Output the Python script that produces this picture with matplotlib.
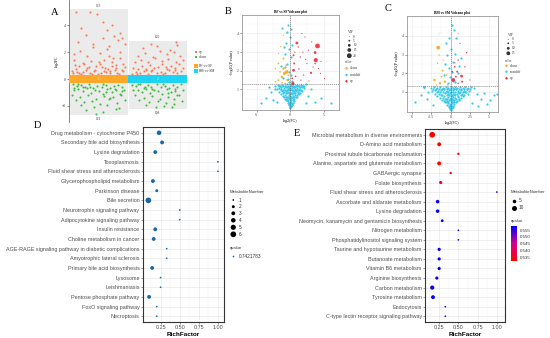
import matplotlib.pyplot as plt
import numpy as np
from matplotlib.colors import LinearSegmentedColormap, Normalize
from matplotlib.cm import ScalarMappable
from matplotlib.ticker import AutoMinorLocator

plt.rcParams['font.family'] = ['Liberation Sans', 'DejaVu Sans']
SERIF = ['Liberation Serif', 'DejaVu Serif']

# ---------------- panel A : log2FC per comparison ----------------
a_groups = ['BF-vs-SF', 'BM-vs-SM']
a_up_n = [123, 100]
a_down_n = [121, 108]
a_top = [5.2, 2.85]
a_bottom = [-2.7, -2.25]

a1_up_x = [-0.43, -0.36, -0.29, -0.22, -0.15, -0.08, -0.01, 0.06, 0.13, 0.20, 0.27, 0.34, 0.41,
           -0.40, -0.33, -0.26, -0.19, -0.12, -0.05, 0.02, 0.09, 0.16, 0.23, 0.30, 0.37, 0.44,
           -0.45, -0.38, -0.27, -0.17, -0.06, 0.04, 0.11, 0.19, 0.29, 0.39,
           -0.42, -0.31, -0.20, -0.09, 0.03, 0.14, 0.25, 0.36, 0.44,
           -0.35, -0.21, -0.10, 0.08, 0.18, 0.33,
           -0.29, 0.14, 0.07, 0.23, 0.36,
           -0.38, -0.14, -0.03, 0.40, 0.26,
           -0.33, -0.11, 0.10, 0.31, -0.24, 0.01, 0.22, 0.42, -0.41, 0.17]
a1_up_y = [0.42, 0.55, 0.38, 0.71, 0.48, 0.62, 0.40, 0.88, 0.52, 0.45, 0.66, 0.39, 0.58,
           1.05, 0.95, 1.20, 0.82, 1.35, 0.98, 1.10, 1.45, 0.76, 1.25, 1.02, 1.60, 0.90,
           0.60, 0.75, 0.50, 0.92, 0.68, 0.44, 0.80, 0.57, 0.85, 0.70,
           1.85, 2.10, 1.70, 2.40, 1.95, 2.25, 1.55, 2.00, 2.65,
           2.80, 3.30, 2.60, 3.05, 2.45, 2.95,
           3.78, 3.66, 4.28, 4.00, 3.45,
           5.00, 4.98, 4.85, 3.10, 3.20,
           0.47, 0.36, 0.64, 0.49, 1.15, 1.30, 0.97, 1.12, 1.40, 1.75]
a1_dn_x = [-0.44, -0.37, -0.30, -0.23, -0.16, -0.09, -0.02, 0.05, 0.12, 0.19, 0.26, 0.33, 0.40,
           -0.41, -0.34, -0.27, -0.20, -0.13, -0.06, 0.01, 0.08, 0.15, 0.22, 0.29, 0.36, 0.43,
           -0.45, -0.32, -0.18, -0.04, 0.10, 0.24, 0.38,
           -0.38, -0.25, -0.11, 0.03, 0.17, 0.31, 0.44,
           -0.30, -0.07, 0.14, 0.35,
           -0.22, 0.08, 0.30,
           -0.05,
           -0.35, -0.14, 0.07, 0.28, -0.26, 0.12, 0.39, -0.42, 0.20]
a1_dn_y = [-0.40, -0.52, -0.45, -0.62, -0.38, -0.70, -0.48, -0.58, -0.42, -0.66, -0.50, -0.44, -0.60,
           -0.82, -0.75, -0.92, -0.70, -1.00, -0.80, -0.88, -1.08, -0.74, -0.95, -0.85, -1.12, -0.78,
           -1.20, -1.35, -1.15, -1.45, -1.25, -1.30, -1.18,
           -1.55, -1.70, -1.62, -1.85, -1.50, -1.75, -1.58,
           -1.95, -2.05, -1.90, -2.15,
           -2.30, -2.45, -2.20,
           -2.62,
           -0.36, -0.56, -0.37, -0.72, -0.60, -0.95, -0.90, -0.68, -1.40]
a2_up_x = [-0.44, -0.37, -0.30, -0.23, -0.16, -0.09, -0.02, 0.05, 0.12, 0.19, 0.26, 0.33, 0.40,
           -0.41, -0.34, -0.27, -0.20, -0.13, -0.06, 0.01, 0.08, 0.15, 0.22, 0.29, 0.36, 0.43,
           -0.39, -0.28, -0.17, -0.05, 0.07, 0.18, 0.31, 0.42,
           -0.33, -0.21, -0.08, 0.04, 0.16, 0.27, 0.38,
           -0.25, -0.02, 0.20, 0.33,
           0.31, -0.12,
           -0.35, -0.11, 0.09, 0.30, -0.20, 0.14]
a2_up_y = [0.40, 0.52, 0.45, 0.60, 0.38, 0.70, 0.48, 0.56, 0.42, 0.65, 0.50, 0.44, 0.62,
           0.85, 0.78, 0.95, 0.72, 1.05, 0.82, 0.90, 1.12, 0.76, 0.98, 0.86, 1.15, 0.80,
           1.30, 1.45, 1.25, 1.60, 1.38, 1.50, 1.28, 1.42,
           1.75, 1.95, 1.65, 2.10, 1.85, 2.00, 1.70,
           2.30, 2.45, 2.20, 2.55,
           2.75, 2.60,
           0.36, 0.58, 0.37, 0.70, 0.66, 0.93]
a2_dn_x = [-0.44, -0.37, -0.30, -0.23, -0.16, -0.09, -0.02, 0.05, 0.12, 0.19, 0.26, 0.33, 0.40,
           -0.41, -0.34, -0.27, -0.20, -0.13, -0.06, 0.01, 0.08, 0.15, 0.22, 0.29, 0.36, 0.43,
           -0.38, -0.24, -0.10, 0.04, 0.18, 0.32,
           -0.31, -0.15, 0.00, 0.14, 0.28, 0.41,
           -0.20, 0.10, 0.27,
           -0.03, 0.24,
           -0.33, -0.12, 0.09, 0.30, -0.22, 0.17]
a2_dn_y = [-0.42, -0.55, -0.40, -0.64, -0.47, -0.72, -0.38, -0.60, -0.50, -0.68, -0.45, -0.57, -0.40,
           -0.85, -0.78, -0.95, -0.74, -1.02, -0.82, -0.90, -1.10, -0.76, -0.98, -0.88, -1.15, -0.80,
           -1.22, -1.38, -1.28, -1.45, -1.32, -1.20,
           -1.55, -1.70, -1.60, -1.80, -1.52, -1.65,
           -1.90, -2.00, -1.85,
           -2.10, -2.05,
           -0.37, -0.62, -0.39, -0.75, -0.62, -1.05]

# ---------------- panel B : BF vs SF volcano ----------------
b_up_x = [4.06, 3.8, 3.7, 1.0, 0.5, 0.5, 0.6, 0.4, 3.1, 3.7, 5.1, 1.74, 2.2, 3.2, 1.5, 2.5, 4.2, 4.5,
          2.0, 1.2, 2.7, 1.3, 2.3, 0.8, 1.6, 2.8, 0.3, 1.9, 3.4, 0.7, 4.6]
b_up_y = [3.33, 2.57, 2.98, 3.49, 2.83, 2.03, 2.39, 1.32, 1.89, 2.39, 1.59, 4.0, 3.81, 3.55, 2.74, 2.39,
          2.12, 1.86, 1.77, 3.28, 3.1, 2.1, 2.6, 1.7, 1.5, 1.45, 1.6, 3.0, 2.2, 3.0, 2.5]
b_up_vip = [20, 17, 10, 10, 6, 10, 6, 12, 7, 4, 2, 2, 2, 2, 3, 2, 2, 2, 3, 3, 2, 3, 2, 4, 2, 2, 5,
            2, 2, 2, 2]
b_dn_x = [-0.5, -0.85, -1.0, -1.23, -1.74, -1.0, -1.74, -0.4, -2.2, -1.5, -0.5, -1.0, -1.74, -2.2,
          -0.74, -0.25, -1.2, -0.6, -1.4]
b_dn_y = [1.94, 1.86, 2.12, 1.67, 2.39, 2.66, 1.5, 1.5, 2.12, 1.94, 4.0, 3.9, 2.93, 1.41, 1.32,
          1.76, 1.35, 2.3, 3.3]
b_dn_vip = [14, 12, 8, 8, 5, 6, 5, 8, 3, 4, 2, 2, 2, 3, 5, 5, 4, 4, 2]
b_ns_x = [0.0, -0.08, 0.1, -0.2, 0.22, 0.05, -0.12,
          -0.35, 0.35, -0.05, 0.15, -0.25, 0.5, -0.55,
          -0.7, -0.4, -0.15, 0.05, 0.28, 0.62, 0.8, -0.9,
          -1.1, -0.75, -0.45, -0.2, 0.0, 0.2, 0.45, 0.7, 1.0, 1.25, -1.3,
          -1.6, -1.2, -0.85, -0.55, -0.3, -0.08, 0.12, 0.35, 0.6, 0.9, 1.2, 1.5, 1.8,
          -2.0, -1.65, -1.3, -0.95, -0.65, -0.38, -0.15, 0.05, 0.28, 0.5, 0.78, 1.05, 1.35, 1.7, 2.0,
          -2.2, -1.85, -1.5, -1.15, -0.8, -0.5, -0.25, 0.0, 0.2, 0.42, 0.68, 0.95, 1.25, 1.55, 1.9, 2.3,
          -4.3, -3.6, -2.9, -2.6, -3.2, 2.7, 3.1, 3.7, 4.6, 6.0, 2.4, -1.9,
          -0.3, -0.15, -0.45, 0.1, -0.1, -0.6, -0.35, 0.15, -0.2, 0.12, -0.7, -0.9, -1.4, -1.1, 0.3,
          -0.5, -1.2, -0.05, 0.25, -0.8,
          -0.02, 0.14, -0.18, 0.08, 0.25, -0.28, 0.18, 0.4, -0.5,
          -0.6, -0.32, -0.05, 0.12, 0.35, 0.58, 0.95,
          -1.0, -0.65, -0.42, -0.18, 0.05, 0.25, 0.5, 0.78, 1.1, 1.4,
          -1.4, -1.0, -0.7, -0.45, -0.2, 0.0, 0.2, 0.45, 0.7, 1.0, 1.3, 1.65,
          -1.7, -1.35, -1.0, -0.75, -0.4, -0.1, 0.1, 0.35, 0.6, 0.88, 1.15, 1.45, 1.8, 2.1]
b_ns_y = [0.03, 0.08, 0.1, 0.15, 0.18, 0.2, 0.22,
          0.28, 0.3, 0.32, 0.35, 0.38, 0.4, 0.42,
          0.48, 0.5, 0.52, 0.47, 0.55, 0.5, 0.58, 0.57,
          0.65, 0.68, 0.62, 0.7, 0.66, 0.74, 0.64, 0.72, 0.68, 0.77, 0.78,
          0.86, 0.9, 0.84, 0.92, 0.88, 0.95, 0.82, 0.9, 0.85, 0.93, 0.87, 0.96, 0.9,
          1.05, 1.1, 1.02, 1.08, 1.12, 1.04, 1.1, 1.0, 1.08, 1.12, 1.04, 1.1, 1.03, 1.12, 1.06,
          1.2, 1.26, 1.18, 1.24, 1.2, 1.27, 1.18, 1.25, 1.19, 1.27, 1.2, 1.26, 1.18, 1.25, 1.21, 1.27,
          0.28, 0.55, 0.85, 0.45, 1.15, 0.65, 1.0, 0.35, 0.55, 0.28, 0.25, 0.35,
          1.55, 1.95, 2.35, 2.75, 3.15, 3.5, 4.45, 4.25, 1.4, 1.75, 2.9, 3.3, 2.25, 1.6, 1.45,
          4.1, 4.3, 3.8, 3.4, 2.2,
          0.12, 0.13, 0.25, 0.26, 0.24, 0.44, 0.43, 0.45, 0.46,
          0.6, 0.59, 0.61, 0.6, 0.58, 0.62, 0.6,
          0.8, 0.79, 0.81, 0.8, 0.78, 0.82, 0.8, 0.79, 0.81, 0.8,
          0.98, 0.97, 0.99, 0.98, 0.96, 1.0, 0.97, 0.99, 0.98, 0.97, 0.99, 0.98,
          1.16, 1.15, 1.17, 1.16, 1.14, 1.15, 1.17, 1.16, 1.15, 1.17, 1.16, 1.15, 1.16, 1.17]
b_ns_big_x = [-2.2]
b_ns_big_y = [1.05]
b_ns_big_vip = [8]

# ---------------- panel C : BM vs SM volcano ----------------
c_up_x = [0.34, 1.43, 0.86, 1.5, 0.56, 0.99, 2.08, 1.21, 0.99, 1.86, 0.69, 0.21, 2.5, 0.99, 0.56]
c_up_y = [1.63, 1.84, 2.08, 1.54, 2.34, 2.7, 3.1, 3.6, 4.14, 2.34, 1.81, 2.08, 1.63, 1.45, 2.55]
c_up_vip = [15, 10, 6, 6, 4, 3, 3, 2, 1, 3, 5, 4, 2, 4, 2]
c_dn_x = [-1.6, -2.1, -1.48, -1.04, -1.39, -0.74, -1.17, -0.52, -1.69, -1.39, -0.39, -1.82, -0.96]
c_dn_y = [3.37, 1.63, 2.97, 2.13, 1.45, 1.54, 1.81, 1.9, 2.53, 4.14, 1.36, 1.36, 2.7]
c_dn_vip = [15, 8, 3, 5, 8, 8, 4, 4, 3, 1, 4, 3, 2]
c_ns_x = [0.0, -0.1, 0.12, -0.25, 0.28, 0.05, -0.1,
          -0.45, 0.45, -0.05, 0.2, -0.3, 0.65, -0.7,
          -0.9, -0.5, -0.2, 0.08, 0.35, 0.8, 1.05, -1.15,
          -1.4, -0.95, -0.6, -0.28, 0.0, 0.25, 0.55, 0.9, 1.3, 1.6, -1.7,
          -2.0, -1.55, -1.1, -0.7, -0.38, -0.1, 0.15, 0.45, 0.78, 1.15, 1.5, 1.9, 2.2,
          -2.4, -2.0, -1.6, -1.2, -0.85, -0.5, -0.2, 0.05, 0.35, 0.65, 1.0, 1.35, 1.7, 2.1, 2.45,
          -2.6, -2.2, -1.8, -1.4, -1.0, -0.65, -0.3, 0.0, 0.25, 0.55, 0.85, 1.2, 1.55, 1.9, 2.3, 2.7,
          -4.6, -3.9, -3.1, -2.9, 3.0, 3.4, 3.9, 4.4, 4.7, 5.1, 5.6, 6.0, 2.8, -2.3, 3.6,
          0.2, 0.45, -0.25, 0.1, -0.45, 0.3, -0.15, 0.55, -0.75, 0.9, -0.05, 0.6, 1.4, -0.35, 0.15,
          -0.6, 0.75, 1.1, -0.9, 0.35,
          -0.02, 0.16, -0.22, 0.1, 0.32, -0.38, 0.22, 0.5, -0.6,
          -0.75, -0.4, -0.08, 0.14, 0.42, 0.7, 1.15,
          -1.25, -0.82, -0.52, -0.22, 0.05, 0.3, 0.6, 0.95, 1.35, 1.75,
          -1.8, -1.35, -0.95, -0.6, -0.28, 0.0, 0.25, 0.55, 0.9, 1.25, 1.65, 2.05,
          -2.3, -1.9, -1.5, -1.15, -0.8, -0.45, -0.12, 0.12, 0.42, 0.72, 1.05, 1.4, 1.75, 2.15, 2.5]
c_ns_y = [0.03, 0.08, 0.1, 0.16, 0.18, 0.22, 0.25,
          0.3, 0.32, 0.35, 0.38, 0.4, 0.42, 0.44,
          0.5, 0.52, 0.55, 0.5, 0.56, 0.52, 0.58, 0.57,
          0.65, 0.68, 0.62, 0.7, 0.66, 0.74, 0.64, 0.72, 0.68, 0.77, 0.78,
          0.86, 0.9, 0.84, 0.92, 0.88, 0.95, 0.82, 0.9, 0.85, 0.93, 0.87, 0.96, 0.9,
          1.05, 1.1, 1.02, 1.08, 1.12, 1.04, 1.1, 1.0, 1.08, 1.12, 1.04, 1.1, 1.03, 1.12, 1.06,
          1.2, 1.26, 1.18, 1.24, 1.2, 1.27, 1.18, 1.25, 1.19, 1.27, 1.2, 1.26, 1.18, 1.25, 1.21, 1.27,
          0.45, 0.8, 0.6, 1.0, 1.2, 0.85, 0.6, 0.95, 0.35, 0.55, 0.8, 0.9, 0.4, 0.3, 0.25,
          4.6, 4.3, 3.9, 3.3, 2.95, 2.6, 2.3, 3.05, 2.5, 2.0, 1.8, 1.5, 2.8, 1.45, 2.05,
          3.6, 3.9, 2.4, 1.9, 1.6,
          0.12, 0.13, 0.25, 0.26, 0.24, 0.44, 0.43, 0.45, 0.46,
          0.6, 0.59, 0.61, 0.6, 0.58, 0.62, 0.6,
          0.8, 0.79, 0.81, 0.8, 0.78, 0.82, 0.8, 0.79, 0.81, 0.8,
          0.98, 0.97, 0.99, 0.98, 0.96, 1.0, 0.97, 0.99, 0.98, 0.97, 0.99, 0.98,
          1.16, 1.15, 1.17, 1.16, 1.14, 1.15, 1.17, 1.16, 1.15, 1.17, 1.16, 1.15, 1.16, 1.17, 1.15]
c_ns_big_x = [-3.43]
c_ns_big_y = [1.24]
c_ns_big_vip = [10]

# ---------------- panel D : KEGG enrichment ----------------
d_names = ['Drug metabolism - cytochrome P450', 'Secondary bile acid biosynthesis',
           'Lysine degradation', 'Toxoplasmosis', 'Fluid shear stress and atherosclerosis',
           'Glycerophospholipid metabolism', 'Parkinson disease', 'Bile secretion',
           'Neurotrophin signaling pathway', 'Adipocytokine signaling pathway',
           'Insulin resistance', 'Choline metabolism in cancer',
           'AGE-RAGE signaling pathway in diabetic complications',
           'Amyotrophic lateral sclerosis', 'Primary bile acid biosynthesis', 'Lysosome',
           'Leishmaniasis', 'Pentose phosphate pathway', 'FoxO signaling pathway', 'Necroptosis']
d_rich = [0.23, 0.27, 0.18, 1.0, 1.0, 0.15, 0.2, 0.09, 0.5, 0.5,
          0.18, 0.16, 0.33, 0.33, 0.14, 0.25, 0.25, 0.1, 0.2, 0.2]
d_num = [4, 3, 3, 1, 1, 3, 2, 6, 1, 1, 3, 3, 1, 1, 3, 1, 1, 3, 1, 1]
d_qvalue = '0.7421783'

# ---------------- panel E : KEGG enrichment ----------------
e_names = ['Microbial metabolism in diverse environments', 'D-Amino acid metabolism',
           'Proximal tubule bicarbonate reclamation', 'Alanine, aspartate and glutamate metabolism',
           'GABAergic synapse', 'Folate biosynthesis', 'Fluid shear stress and atherosclerosis',
           'Ascorbate and aldarate metabolism', 'Lysine degradation',
           'Neomycin, kanamycin and gentamicin biosynthesis', 'Nitrogen metabolism',
           'Phosphatidylinositol signaling system', 'Taurine and hypotaurine metabolism',
           'Butanoate metabolism', 'Vitamin B6 metabolism', 'Arginine biosynthesis',
           'Carbon metabolism', 'Tyrosine metabolism', 'Endocytosis',
           'C-type lectin receptor signaling pathway']
e_rich = [0.16, 0.25, 0.5, 0.25, 0.4, 0.27, 1.0, 0.23, 0.23, 0.29,
          0.5, 0.5, 0.25, 0.25, 0.25, 0.22, 0.16, 0.17, 0.33, 0.33]
e_num = [13, 6, 2, 6, 2, 4, 1, 5, 5, 3, 1, 1, 4, 4, 4, 4, 7, 6, 1, 1]
e_q = [0.5325, 0.5325, 0.5325, 0.5325, 0.5325, 0.538, 0.5575, 0.5575, 0.5575, 0.5575,
       0.5575, 0.5575, 0.5575, 0.5575, 0.5575, 0.5575, 0.5575, 0.5575, 0.5575, 0.5575]

# colours
UP_A, DN_A = '#F97C55', '#3DBE3D'
BAND = ['#FFA726', '#1DD3F3']
V_DN, V_NS, V_UP = '#F5A623', '#35C9EA', '#EE2C3C'
D_COL = '#1768A6'

W, H = 550, 338
fig = plt.figure(figsize=(5.5, 3.38), dpi=100)


def box(x0, y0, x1, y1):
    return fig.add_axes([x0 / W, 1 - y1 / H, (x1 - x0) / W, (y1 - y0) / H])


def s_px(d):
    # pixel diameter -> scatter area in points^2
    return (np.asarray(d, dtype=float) / (100 / 72)) ** 2


def vip_px(v):
    return 0.8 + 0.2 * np.asarray(v, dtype=float)


# ---- A ----
axA = box(69, 0, 187.3, 122)
xs = np.array([1, 2])
axA.bar(xs, np.subtract(a_top, a_bottom), bottom=a_bottom, width=0.98, color='#EBEBEB', zorder=0)
PA = s_px(2.1)
axA.scatter(1 + np.array(a1_up_x), a1_up_y, s=PA, c=UP_A, lw=0, zorder=2)
axA.scatter(1 + np.array(a1_dn_x), a1_dn_y, s=PA, c=DN_A, lw=0, zorder=2)
axA.scatter(2 + np.array(a2_up_x), a2_up_y, s=PA, c=UP_A, lw=0, zorder=2)
axA.scatter(2 + np.array(a2_dn_x), a2_dn_y, s=PA, c=DN_A, lw=0, zorder=2)
axA.bar(xs, 0.58, bottom=-0.3, width=0.99, color=BAND, zorder=3)
for i in range(2):
    axA.text(xs[i], a_top[i] + 0.28, str(a_up_n[i]), ha='center', va='center',
             fontsize=2.6, family=SERIF, color='#333333')
    axA.text(xs[i], a_bottom[i] - 0.28, str(a_down_n[i]), ha='center', va='center',
             fontsize=2.6, family=SERIF, color='#333333')
    axA.text(xs[i], 0, str(i + 1), ha='center', va='center', fontsize=2.4,
             family=SERIF, color='white', zorder=4)
axA.set_xlim(0.5, 2.5)
axA.set_ylim(-3.2, 5.9)
axA.set_yticks([-2, 0, 2, 4])
axA.set_xticks([])
for sp in ['top', 'right', 'bottom']:
    axA.spines[sp].set_visible(False)
axA.spines['left'].set_linewidth(0.5)
axA.spines['left'].set_color('#555555')
axA.tick_params(axis='y', labelsize=2.8, length=1.2, width=0.4, pad=1, colors='#333333')
for t in axA.get_yticklabels():
    t.set_family(SERIF)
axA.set_ylabel('log2FC', fontsize=2.8, family=SERIF, labelpad=2)
axA.patch.set_alpha(0)


# ---- volcano ----
def volcano(ax, ns, big, dn, up, xlim, ylim, xticks, xlabels, title):
    ax.scatter(ns[0], ns[1], s=s_px(2.2), c=V_NS, lw=0, zorder=2)
    ax.scatter(big[0], big[1], s=s_px(vip_px(big[2])), c=V_NS, lw=0, zorder=2)
    ax.scatter(dn[0], dn[1], s=s_px(vip_px(dn[2])), c=V_DN, lw=0, zorder=3, alpha=0.9)
    ax.scatter(up[0], up[1], s=s_px(vip_px(up[2])), c=V_UP, lw=0, zorder=3, alpha=0.9)
    ax.axhline(1.3, ls=(0, (2, 1.5)), color='#555555', lw=0.4, zorder=4)
    ax.axvline(0, ls=(0, (2, 1.5)), color='#555555', lw=0.4, zorder=4)
    ax.set_xlim(*xlim)
    ax.set_ylim(*ylim)
    ax.set_xticks(xticks)
    ax.set_xticklabels(xlabels)
    ax.set_yticks([1, 2, 3, 4])
    ax.xaxis.set_minor_locator(AutoMinorLocator(2))
    ax.yaxis.set_minor_locator(AutoMinorLocator(2))
    ax.grid(True, which='major', color='#E6E6E6', lw=0.4, zorder=0)
    ax.grid(True, which='minor', color='#F2F2F2', lw=0.3, zorder=0)
    ax.set_axisbelow(True)
    for sp in ax.spines.values():
        sp.set_color('#999999')
        sp.set_linewidth(0.6)
    ax.tick_params(labelsize=2.8, length=1.2, width=0.4, pad=1, colors='#444444')
    ax.tick_params(which='minor', length=0)
    for t in ax.get_xticklabels() + ax.get_yticklabels():
        t.set_family(SERIF)
    ax.set_xlabel('log2(FC)', fontsize=2.9, family=SERIF, labelpad=1.5)
    ax.set_ylabel('-log10(P value)', fontsize=2.9, family=SERIF, labelpad=2)
    ax.set_title(title, fontsize=2.6, family=SERIF, fontweight='bold', pad=1.5)


axB = box(241.7, 15, 339.3, 110)
volcano(axB, (b_ns_x, b_ns_y), (b_ns_big_x, b_ns_big_y, b_ns_big_vip),
        (b_dn_x, b_dn_y, b_dn_vip), (b_up_x, b_up_y, b_up_vip),
        (-7.2, 7.3), (-0.1, 4.99), [-5, 0, 5], ['-5', '0', '5'], 'BF vs SF Volcano plot')
axC = box(406.7, 16, 498.3, 111.7)
volcano(axC, (c_ns_x, c_ns_y), (c_ns_big_x, c_ns_big_y, c_ns_big_vip),
        (c_dn_x, c_dn_y, c_dn_vip), (c_up_x, c_up_y, c_up_vip),
        (-5.7, 6.2), (-0.075, 5.07), [-5, -2.5, 0, 2.5, 5], ['-5', '-2.5', '0', '2.5', '5'],
        'BM vs SM Volcano plot')


# ---- D / E enrichment ----
def enrich(ax, names, rich, sizes, colors, xlim):
    y = np.arange(len(names))[::-1]
    ax.scatter(rich, y, s=sizes, c=colors, lw=0, zorder=3)
    ax.set_yticks(y)
    ax.set_yticklabels(names)
    ax.set_ylim(-0.6, len(names) - 0.4)
    ax.set_xlim(*xlim)
    ax.set_xticks([0.25, 0.5, 0.75, 1.0])
    ax.set_xticklabels(['0.25', '0.50', '0.75', '1.00'])
    ax.xaxis.set_minor_locator(AutoMinorLocator(2))
    ax.grid(True, which='major', color='#E3E3E3', lw=0.4)
    ax.grid(True, which='minor', axis='x', color='#F0F0F0', lw=0.3)
    ax.set_axisbelow(True)
    for sp in ax.spines.values():
        sp.set_color('#333333')
        sp.set_linewidth(0.8)
    ax.tick_params(labelsize=3.9, length=1.5, width=0.4, pad=1, colors='#4D4D4D')
    ax.tick_params(which='minor', length=0)
    ax.set_xlabel('RichFactor', fontsize=4.6, fontweight='bold', labelpad=1)


def d_size(n):
    return s_px(np.sqrt(2.9 + (np.asarray(n) - 1) * 5.92))


def e_size(n):
    return s_px(np.sqrt(2.9 + (np.asarray(n) - 1) / 12 * 29.6))


axD = box(143, 127, 224, 322)
enrich(axD, d_names, d_rich, d_size(d_num), D_COL, (0.02, 1.08))

cmap = LinearSegmentedColormap.from_list('rb', ['#FF0000', '#D4008F', '#0000FF'])
norm = Normalize(0.5323, 0.558)
axE = box(425.3, 129, 505.3, 322)
enrich(axE, e_names, e_rich, e_size(e_num), cmap(norm(e_q)), (0.07, 1.11))

cax = box(510.7, 226, 517, 260.7)
cb = fig.colorbar(ScalarMappable(norm=norm, cmap=cmap), cax=cax,
                  ticks=[0.535, 0.54, 0.545, 0.55, 0.555])
cb.ax.set_yticklabels(['0.535', '0.540', '0.545', '0.550', '0.555'])
cb.outline.set_visible(False)
cb.ax.tick_params(labelsize=3.2, length=1.2, width=0.4, pad=1, colors='#333333')
cb.ax.tick_params(color='white')

# ---- overlay: legends and panel letters ----
ov = fig.add_axes([0, 0, 1, 1], zorder=10)
ov.set_xlim(0, W)
ov.set_ylim(H, 0)
ov.axis('off')


def lab(x, y, s, size=2.6, fam=SERIF, **kw):
    ov.text(x, y, s, fontsize=size, family=fam, va='center', ha='left', color='#333333', **kw)


for ch, x, y in [('A', 55, 12.7), ('B', 228.5, 11.7), ('C', 388.5, 8.3), ('D', 37, 125), ('E', 296.7, 134)]:
    ov.text(x, y, ch, fontsize=7.5, family=SERIF, ha='center', va='center', color='black')

# A legend
ov.scatter([196, 196], [52, 57], s=s_px(2.0), c=[UP_A, DN_A], marker='s', lw=0)
lab(199, 52, 'up')
lab(199, 57, 'down')
ov.scatter([196, 196], [66.3, 71.3], s=s_px(3.8), c=BAND, marker='s', lw=0)
lab(199, 66.3, a_groups[0])
lab(199, 71.3, a_groups[1])

# B legend
vip_b = [0, 5, 10, 15, 20]
lab(347.7, 32.3, 'VIP')
ov.scatter([349.3] * 5, [36.7, 40.7, 45.3, 50, 55.7], s=s_px(vip_px(vip_b)), c='#333333', lw=0)
for v, yy in zip(vip_b, [36.7, 40.7, 45.3, 50, 55.7]):
    lab(353.3, yy, str(v))
lab(345, 61.7, 'color')
ov.scatter([346.5] * 3, [68.3, 75, 81.3], s=s_px(2.4), c=[V_DN, V_NS, V_UP], lw=0)
for s, yy in zip(['down', 'nosidiff', 'up'], [68.3, 75, 81.3]):
    lab(350, yy, s)

# C legend
vip_c = [0, 5, 10, 15]
lab(508, 35, 'VIP')
ov.scatter([508.3] * 4, [39.3, 43.3, 48.3, 53.3], s=s_px(vip_px(vip_c)), c='#333333', lw=0)
for v, yy in zip(vip_c, [39.3, 43.3, 48.3, 53.3]):
    lab(512, yy, str(v))
lab(505, 61, 'color')
ov.scatter([506.5] * 3, [65.7, 71.7, 78.3], s=s_px(2.4), c=[V_DN, V_NS, V_UP], lw=0)
for s, yy in zip(['down', 'nosidiff', 'up'], [65.7, 71.7, 78.3]):
    lab(510, yy, s)

# D legend
SANS = ['Liberation Sans', 'DejaVu Sans']
d_leg = [1, 2, 3, 4, 5, 6]
d_leg_y = [200, 206.7, 213.3, 220.3, 227.3, 234.3]
lab(230, 192.3, 'MetaboliteNumber', size=3.1, fam=SANS)
ov.scatter([233.3] * 6, d_leg_y, s=d_size(d_leg), c='black', lw=0)
for v, yy in zip(d_leg, d_leg_y):
    lab(238.7, yy, str(v), size=3.4, fam=SANS)
lab(230, 248.3, 'qvalue', size=3.1, fam=SANS)
ov.scatter([233.3], [256], s=d_size([1]), c=D_COL, lw=0)
lab(238.7, 256, d_qvalue, size=3.4, fam=SANS)

# E legend
lab(510.7, 192, 'MetaboliteNumber', size=3.1, fam=SANS)
ov.scatter([514], [200.7], s=e_size([5]), c='black', lw=0)
ov.scatter([514], [207.7], s=e_size([10]), c='black', lw=0)
lab(518.3, 200.7, '5', size=3.4, fam=SANS)
lab(518.3, 207.7, '10', size=3.4, fam=SANS)
lab(510.7, 221, 'qvalue', size=3.1, fam=SANS)

fig.savefig('out.png', dpi=100)
